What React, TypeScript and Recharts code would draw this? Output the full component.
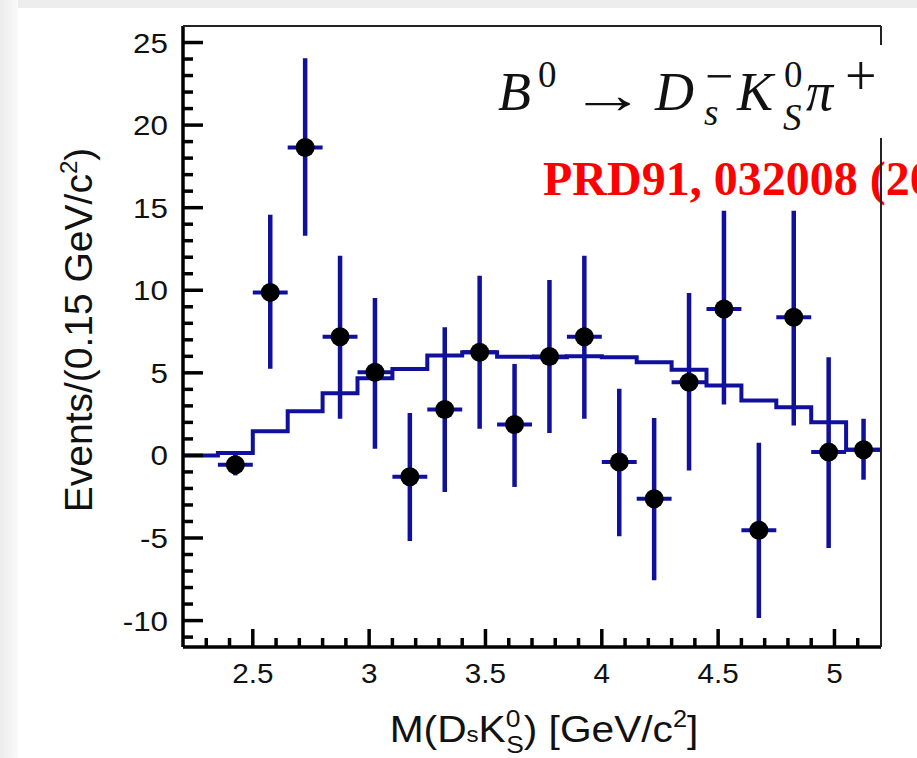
import React from 'react';
import { ComposedChart, Line, Scatter, ErrorBar, XAxis, YAxis } from 'recharts';

// fit histogram: bin edges (GeV/c^2) and height of each bin
const binEdges = [2.2, 2.35, 2.5, 2.65, 2.8, 2.95, 3.1, 3.25, 3.4, 3.55, 3.7, 3.85, 4.0, 4.15, 4.3, 4.45, 4.6, 4.75, 4.9, 5.05, 5.2];
const fitValues = [0, 0.15, 1.47, 2.68, 3.77, 4.67, 5.23, 6.05, 6.25, 5.98, 5.94, 6.0, 5.94, 5.64, 5.18, 4.23, 3.33, 2.92, 2.01, 0.34];

// data points (bin centres) with lower / upper ends of the error bars
const pointMass = [2.425, 2.575, 2.725, 2.875, 3.025, 3.175, 3.325, 3.475, 3.625, 3.775, 3.925, 4.075, 4.225, 4.375, 4.525, 4.675, 4.825, 4.975, 5.125];
const pointEvents = [-0.56, 9.87, 18.64, 7.19, 5.04, -1.29, 2.78, 6.25, 1.87, 5.99, 7.19, -0.4, -2.62, 4.43, 8.87, -4.53, 8.36, 0.2, 0.34];
const errLow = [-1.21, 5.24, 13.3, 2.22, 0.4, -5.18, -2.22, 1.61, -1.91, 1.35, 2.22, -4.9, -7.56, -0.91, 3.08, -9.84, 1.81, -5.6, -1.47];
const errHigh = [0.1, 14.57, 24.04, 12.09, 9.53, 2.57, 7.76, 10.88, 5.54, 10.62, 12.09, 4.03, 2.26, 9.84, 14.81, 0.77, 14.81, 5.94, 2.22];
const halfBin = 0.075;

const xMajorTicks = [2.5, 3, 3.5, 4, 4.5, 5];
const yMajorTicks = [-10, -5, 0, 5, 10, 15, 20, 25];

// minor ticks every 0.1 in x and every 1 in y
const xTicks: number[] = [];
for (let k = 23; k <= 51; k++) xTicks.push(k / 10);
const yTicks: number[] = [];
for (let k = -11; k <= 25; k++) yTicks.push(k);

const fitData = binEdges.map((m, i) => ({ mass: m, fit: fitValues[Math.min(i, fitValues.length - 1)] }));
const pointData = pointMass.map((m, i) => ({
  mass: m,
  events: pointEvents[i],
  yErr: [pointEvents[i] - errLow[i], errHigh[i] - pointEvents[i]],
  xErr: halfBin,
}));

const BLUE = '#10109c';
const SANS = '"Liberation Sans", Arial, Helvetica, sans-serif';
const SERIF = '"Liberation Serif", "Times New Roman", serif';

const isMajor = (v: number, list: number[]) => list.some((t) => Math.abs(t - v) < 1e-6);

const XTick = (props: any) => {
  const { x, y, payload } = props;
  const v = payload.value;
  const major = isMajor(v, xMajorTicks);
  return (
    <g>
      <line x1={x} x2={x} y1={y} y2={y - (major ? 18 : 9)} stroke="#000" strokeWidth={3.5} />
      {major && (
        <text transform={`translate(${x},${y + 36}) scale(1.06,1)`} textAnchor="middle" fontSize={28} fontFamily={SANS} fill="#111">
          {String(v)}
        </text>
      )}
    </g>
  );
};

const YTick = (props: any) => {
  const { x, y, payload } = props;
  const v = payload.value;
  const major = isMajor(v, yMajorTicks);
  return (
    <g>
      <line x1={x} x2={x + (major ? 20 : 10)} y1={y} y2={y} stroke="#000" strokeWidth={3.5} />
      {major && (
        <text transform={`translate(${x - 15},${y + 10}) scale(1.12,1)`} textAnchor="end" fontSize={28} fontFamily={SANS} fill="#111">
          {String(v)}
        </text>
      )}
    </g>
  );
};

const Dot = (props: any) => <circle cx={props.cx} cy={props.cy} r={9.5} fill="#000" />;

export default function App() {
  return (
    <div style={{ position: 'fixed', left: 0, top: 0, width: 917, height: 758, overflow: 'hidden', background: '#fff' }}>
      <div style={{ position: 'absolute', left: 0, top: 0, width: 917, height: 8, background: '#ededed' }} />
      <div style={{ position: 'absolute', left: 0, top: 0, width: 18, height: 758, background: 'linear-gradient(to right, #ececec, #fafafa)' }} />
      <div style={{ position: 'absolute', left: 0, top: 0 }}>
        <ComposedChart width={917} height={758} margin={{ top: 26, right: 36, bottom: 0, left: 0 }}>
          <XAxis
            dataKey="mass"
            type="number"
            domain={[2.2, 5.2]}
            allowDataOverflow
            ticks={xTicks}
            interval={0}
            tick={(p: any) => <XTick {...p} />}
            tickSize={0}
            tickMargin={0}
            tickLine={false}
            axisLine={{ stroke: '#000', strokeWidth: 3.5 }}
            height={111}
          />
          <YAxis
            type="number"
            domain={[-11.6, 26]}
            allowDataOverflow
            ticks={yTicks}
            interval={0}
            tick={(p: any) => <YTick {...p} />}
            tickSize={0}
            tickMargin={0}
            tickLine={false}
            axisLine={{ stroke: '#000', strokeWidth: 3.5 }}
            width={183}
          />
          <Line data={fitData} dataKey="fit" type="stepAfter" stroke={BLUE} strokeWidth={4} dot={false} isAnimationActive={false} />
          <Scatter data={pointData} dataKey="events" shape={Dot} isAnimationActive={false}>
            <ErrorBar dataKey="yErr" direction="y" width={0} stroke={BLUE} strokeWidth={4.5} />
            <ErrorBar dataKey="xErr" direction="x" width={0} stroke={BLUE} strokeWidth={4} />
          </Scatter>
        </ComposedChart>
      </div>
      <svg width={917} height={758} style={{ position: 'absolute', left: 0, top: 0, pointerEvents: 'none' }}>
        {/* axis titles */}
        <text transform="translate(92,330) rotate(-90)" textAnchor="middle" fontSize={39} fontFamily={SANS} fill="#111">
          Events/(0.15 GeV/c<tspan fontSize={24} dy={-15}>2</tspan>
          <tspan dy={15}>)</tspan>
        </text>
        <text transform="translate(544,742) scale(1.1,1)" textAnchor="middle" fontSize={37} fontFamily={SANS} fill="#111">
          M(D<tspan fontSize={22}>s</tspan>K<tspan fontSize={24} dy={-15}>0</tspan>
          <tspan fontSize={24} dx={-13} dy={26}>S</tspan>
          <tspan dy={-11}>) [GeV/c</tspan>
          <tspan fontSize={23} dy={-15}>2</tspan>
          <tspan dy={15}>]</tspan>
        </text>
        {/* reference note */}
        <text x={543} y={195} fontSize={48} fontWeight="bold" fontFamily={SERIF} fill="#ff0000">
          PRD91, 032008 (2015)
        </text>
        {/* frame */}
        <line x1={183} x2={881} y1={26} y2={26} stroke="#222" strokeWidth={2} />
        <line x1={881} x2={881} y1={26} y2={647} stroke="#222" strokeWidth={2} />
        {/* decay label */}
        <rect x={488} y={45} width={400} height={93} fill="#fff" />
        <text fontFamily={SERIF} fill="#111">
          <tspan x={498} y={110} fontSize={54} fontStyle="italic">B</tspan>
          <tspan x={538} y={87} fontSize={37}>0</tspan>
          <tspan x={655} y={110} fontSize={54} fontStyle="italic">D</tspan>
          <tspan x={705} y={93} fontSize={50}>−</tspan>
          <tspan x={704} y={125} fontSize={37} fontStyle="italic">s</tspan>
          <tspan x={737} y={110} fontSize={54} fontStyle="italic">K</tspan>
          <tspan x={784} y={87} fontSize={37}>0</tspan>
          <tspan x={783} y={130} fontSize={37} fontStyle="italic">S</tspan>
          <tspan x={806} y={110} fontSize={54} fontStyle="italic">π</tspan>
          <tspan x={845} y={95} fontSize={56}>+</tspan>
        </text>
        <text transform="translate(570,113) scale(1.4,1)" fontSize={54} fontFamily={SERIF} fill="#111">→</text>
      </svg>
    </div>
  );
}
